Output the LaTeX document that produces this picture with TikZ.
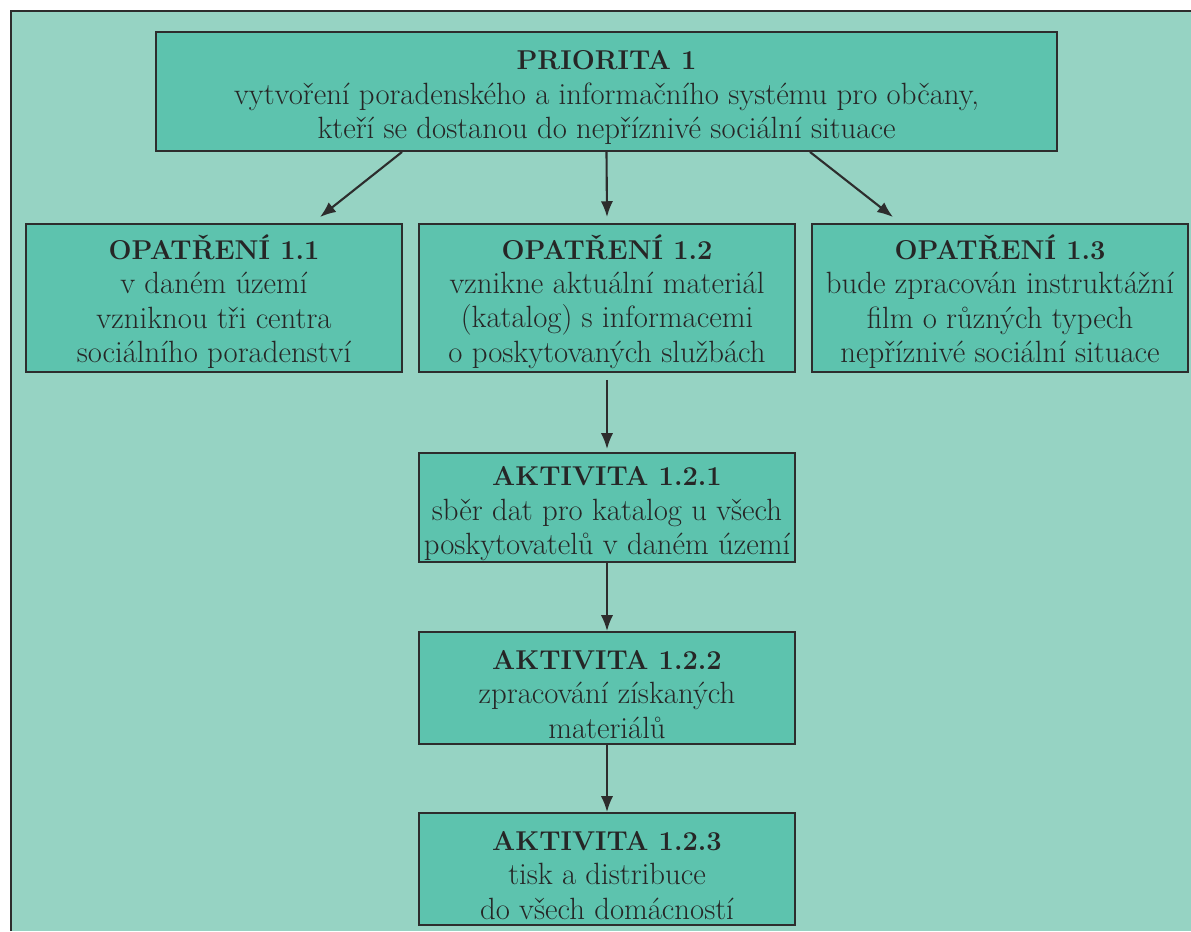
\documentclass[tikz,border=0pt]{standalone}
\usepackage{fontspec}
\usetikzlibrary{arrows.meta}

\definecolor{pozadi}{RGB}{150,211,195}
\definecolor{vypln}{RGB}{93,195,174}
\definecolor{cara}{RGB}{45,45,45}

\newcommand{\nadpis}[1]{{\fontsize{15.5}{19.6}\selectfont\bfseries\rule{0pt}{18pt}#1}}

\tikzset{
  blok/.style={draw=cara, line width=1.1pt, fill=vypln, align=center,
    minimum width=7.52cm, minimum height=2.96cm, inner sep=0pt,
    text=black!85, font=\fontsize{17.5}{19.6}\selectfont},
  sipka/.style={draw=cara, line width=1.2pt, -{Latex[length=9pt,width=7pt]}}
}

\begin{document}
\begin{tikzpicture}[x=0.02cm,y=-0.02cm]
  \useasboundingbox (0,0) rectangle (1191,931);

  % Pozadí
  \fill[pozadi] (11,11) rectangle (1191,931);
  \draw[cara, line width=1.1pt] (11,931) -- (11,11) -- (1191,11);

  % Priorita
  \node[blok, minimum width=18.02cm, minimum height=2.38cm] (prio) at (606.5,91.5)
    {\nadpis{PRIORITA 1}\\vytvoření poradenského a informačního systému pro občany,\\kteří se dostanou do nepříznivé sociální situace};

  % Opatření
  \node[blok] (op1) at (214,298)
    {\nadpis{OPATŘENÍ 1.1}\\v daném území\\vzniknou tři centra\\sociálního poradenství};
  \node[blok] (op2) at (607,298)
    {\nadpis{OPATŘENÍ 1.2}\\vznikne aktuální materiál\\(katalog) s informacemi\\o poskytovaných službách};
  \node[blok] (op3) at (1000,298)
    {\nadpis{OPATŘENÍ 1.3}\\bude zpracován instruktážní\\film o různých typech\\nepříznivé sociální situace};

  % Aktivity
  \node[blok, minimum height=2.18cm] (akt1) at (607,507.5)
    {\nadpis{AKTIVITA 1.2.1}\\sběr dat pro katalog u všech\\poskytovatelů v daném území};
  \node[blok, minimum height=2.24cm] (akt2) at (607,688)
    {\nadpis{AKTIVITA 1.2.2}\\zpracování získaných\\materiálů};
  \node[blok, minimum height=2.24cm] (akt3) at (607,869)
    {\nadpis{AKTIVITA 1.2.3}\\tisk a distribuce\\do všech domácností};

  % Šipky
  \draw[sipka] ([xshift=-4.09cm]prio.south) -- ([xshift=2.12cm,yshift=0.12cm]op1.north);
  \draw[sipka] (prio.south) -- ([yshift=0.12cm]op2.north);
  \draw[sipka] ([xshift=4.07cm]prio.south) -- ([xshift=-2.14cm,yshift=0.12cm]op3.north);
  \draw[sipka] ([yshift=-0.14cm]op2.south) -- ([yshift=0.06cm]akt1.north);
  \draw[sipka] (akt1.south) -- (akt2.north);
  \draw[sipka] (akt2.south) -- (akt3.north);
\end{tikzpicture}
\end{document}
